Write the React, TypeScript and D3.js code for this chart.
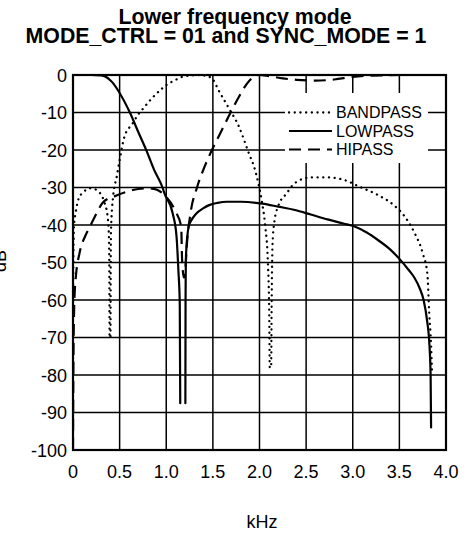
import * as d3 from 'd3';

const W = 469;
const H = 533;
const margin = { top: 75, right: 20, bottom: 83, left: 73 };

const xTicks = [0, 0.5, 1.0, 1.5, 2.0, 2.5, 3.0, 3.5, 4.0];
const xTickLabels = ['0', '0.5', '1.0', '1.5', '2.0', '2.5', '3.0', '3.5', '4.0'];
const yTicks = [0, -10, -20, -30, -40, -50, -60, -70, -80, -90, -100];

// [kHz, dB]; NaN marks a break in the trace
const bandpass: [number, number][] = [
  [0, -62], [0.01, -40.5], [0.03, -36.5], [0.06, -33], [0.11, -31.3], [0.18, -30.2],
  [0.25, -30.6], [0.29, -31.5], [0.34, -34.2], [0.37, -37.5], [0.385, -43], [0.39, -55],
  [0.392, -70], [0.402, -70], [0.404, -55], [0.407, -42], [0.43, -32.4], [0.47, -27],
  [0.5, -22.7], [0.55, -16.6], [0.64, -12.9], [0.7, -10.5], [0.75, -9], [0.85, -6.1],
  [0.96, -3.5], [1.0, -2.7], [1.1, -1.3], [1.17, -0.5], [1.24, -0.2], [1.35, 0],
  [1.45, -0.4], [1.5, -1.2], [1.56, -4], [1.67, -8.8], [1.78, -13.8], [1.88, -20.5],
  [1.96, -26], [2.02, -33], [2.06, -40], [2.09, -50], [2.105, -65], [2.11, -78],
  [2.125, -78], [2.13, -62], [2.14, -45], [2.16, -39], [2.2, -35], [2.29, -31.6],
  [2.38, -28.8], [2.55, -27.3], [2.73, -27.3], [2.91, -28], [3.09, -30], [3.27, -32],
  [3.44, -34.7], [3.55, -37.5], [3.66, -42], [3.75, -47.5], [3.8, -53], [3.82, -63.5],
  [3.84, -72], [3.85, -79],
];

const lowpass: [number, number][] = [
  [0, 0], [0.2, 0], [0.3, -0.1], [0.36, -0.6], [0.42, -1.9], [0.5, -4.8], [0.61, -10],
  [0.7, -15.2], [0.79, -20.3], [0.87, -25.3], [0.96, -30], [0.98, -31.5], [1.07, -37],
  [1.11, -43], [1.13, -52], [1.145, -61], [1.15, -87.5], [1.17, NaN], [1.205, -87.5], [1.207, -61],
  [1.212, -48], [1.24, -40.5], [1.28, -38.3], [1.32, -37], [1.4, -35.5], [1.46, -34.7],
  [1.55, -34.1], [1.65, -33.8], [1.8, -33.8], [2.03, -34.3], [2.2, -35.1], [2.38, -36],
  [2.55, -37.2], [2.73, -38.5], [2.9, -39.6], [3.02, -40.4], [3.15, -42], [3.27, -44],
  [3.4, -46.5], [3.51, -49.3], [3.6, -52], [3.66, -54], [3.72, -57], [3.76, -60],
  [3.8, -66], [3.82, -71], [3.835, -80], [3.84, -94],
];

const hipass: [number, number][] = [
  [0, -100], [0.005, -75], [0.015, -60], [0.03, -54], [0.07, -47.5], [0.13, -43],
  [0.18, -40.5], [0.25, -37], [0.32, -34], [0.45, -32.3], [0.57, -31.2], [0.7, -30.4],
  [0.82, -30.2], [0.9, -30.6], [0.98, -32], [1.1, -36.4], [1.16, -40.4], [1.17, -49.3],
  [1.19, -54], [1.21, -50], [1.22, -45.8], [1.26, -36.9], [1.33, -30], [1.41, -24.5],
  [1.49, -20], [1.59, -15], [1.69, -10], [1.78, -5.8], [1.86, -2.5], [1.93, -0.6],
  [2.0, 0], [2.1, -0.3], [2.25, -0.9], [2.4, -1.3], [2.6, -1.5], [2.8, -1.2],
  [3.0, -0.5], [3.3, -0.1], [3.6, 0], [3.9, 0],
];

const seriesNames = ['BANDPASS', 'LOWPASS', 'HIPASS'];
const font = "'Liberation Sans', Arial, Helvetica, sans-serif";

const styles: Record<string, { dash?: string; width: number; cap: string }> = {
  BANDPASS: { dash: '0.1 5.6', width: 2.3, cap: 'round' },
  LOWPASS: { width: 2.2, cap: 'round' },
  HIPASS: { dash: '12 7', width: 2.2, cap: 'butt' },
};

export default function App() {
  const x = d3.scaleLinear().domain([0, 4]).range([margin.left, W - margin.right - 3]);
  const y = d3.scaleLinear().domain([0, -100]).range([margin.top, H - margin.bottom]);
  const line = d3
    .line<[number, number]>()
    .defined((d) => !isNaN(d[1]))
    .x((d) => x(d[0]))
    .y((d) => y(d[1]))
    .curve(d3.curveMonotoneX);

  const data: Record<string, [number, number][]> = {
    BANDPASS: bandpass,
    LOWPASS: lowpass,
    HIPASS: hipass,
  };

  const [x0, x1] = x.range();
  const [y0, y1] = y.range();
  const lg = { x: 285, y: 93, w: 143, h: 70 };

  return (
    <svg
      width={W}
      height={H}
      style={{ position: 'absolute', left: 0, top: 0, background: '#fff' }}
      fontFamily={font}
    >
      <defs>
        <clipPath id="plot">
          <rect x={x0} y={y0 - 1} width={x1 - x0} height={y1 - y0 + 1} />
        </clipPath>
      </defs>
      <text x={235} y={24} textAnchor="middle" fontWeight="bold" fontSize={21.3}>
        Lower frequency mode
      </text>
      <text x={226} y={43} textAnchor="middle" fontWeight="bold" fontSize={21.3}>
        MODE_CTRL = 01 and SYNC_MODE = 1
      </text>

      <g stroke="#000" strokeWidth={1.5}>
        {xTicks.slice(1, -1).map((t) => (
          <line key={'gx' + t} x1={x(t)} x2={x(t)} y1={y0} y2={y1} />
        ))}
        {yTicks.slice(1, -1).map((t) => (
          <line key={'gy' + t} x1={x0} x2={x1} y1={y(t)} y2={y(t)} />
        ))}
      </g>
      <rect x={lg.x} y={lg.y} width={lg.w} height={lg.h} fill="#fff" />

      <g clipPath="url(#plot)" fill="none" stroke="#000">
        {seriesNames.map((n) => (
          <path
            key={n}
            d={line(data[n]) || ''}
            strokeWidth={styles[n].width}
            strokeDasharray={styles[n].dash}
            strokeLinecap={styles[n].cap as any}
            strokeLinejoin="round"
          />
        ))}
      </g>
      <rect x={x0} y={y0} width={x1 - x0} height={y1 - y0} fill="none" stroke="#000" strokeWidth={2.2} />

      <g fontSize={16}>
        {seriesNames.map((n, i) => {
          const cy = 112.5 + i * 18.5;
          return (
            <g key={n}>
              <line
                x1={289}
                x2={332}
                y1={cy}
                y2={cy}
                stroke="#000"
                strokeWidth={styles[n].width}
                strokeDasharray={styles[n].dash}
                strokeLinecap={n === 'LOWPASS' ? 'butt' : (styles[n].cap as any)}
              />
              <text x={336} y={cy + 5.8}>
                {n}
              </text>
            </g>
          );
        })}
      </g>

      <g fontSize={18}>
        {yTicks.map((t) => (
          <text key={'ty' + t} x={67} y={y(t) + 6.5} textAnchor="end">
            {t}
          </text>
        ))}
        {xTicks.map((t, i) => (
          <text key={'tx' + t} x={x(t)} y={478} textAnchor="middle">
            {xTickLabels[i]}
          </text>
        ))}
        <text x={262} y={528} textAnchor="middle">
          kHz
        </text>
        <text transform="translate(6,261) rotate(-90)" textAnchor="middle">
          dB
        </text>
      </g>
    </svg>
  );
}
